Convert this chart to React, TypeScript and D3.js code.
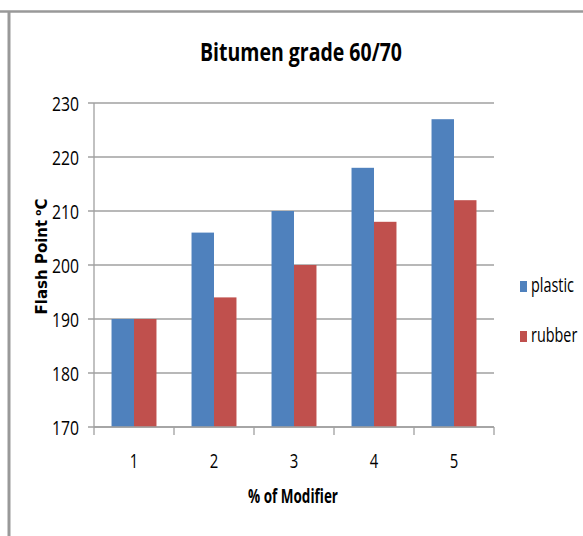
import React from "react";
import * as d3 from "d3";

const categories = ["1", "2", "3", "4", "5"];
const seriesNames = ["plastic", "rubber"];
const plastic = [190, 206, 210, 218, 227];
const rubber = [190, 194, 200, 208, 212];
const yTicks = [170, 180, 190, 200, 210, 220, 230];
const colors = ["#4F81BD", "#C0504D"];

const W = 583;
const H = 536;
const FONT = "'Open Sans', 'Liberation Sans', sans-serif";

export default function App() {
  const x0 = d3.scaleBand<string>().domain(categories).range([94, 494]).padding(0);
  const x1 = d3
    .scaleBand<string>()
    .domain(seriesNames)
    .range([0, x0.bandwidth()])
    .paddingInner(0)
    .paddingOuter(0.78);
  const y = d3.scaleLinear().domain([170, 230]).range([427, 103]);
  const values = [plastic, rubber];
  const grid = "#A0A0A0";

  return (
    <svg
      width={W}
      height={H}
      style={{ position: "absolute", left: 0, top: 0, background: "#fff" }}
    >
      <rect x={0} y={0} width={W} height={H} fill="#fff" />
      {/* border lines */}
      <line x1={0} x2={W} y1={11.5} y2={11.5} stroke="#999" strokeWidth={2.5} />
      <line x1={9} x2={9} y1={11} y2={H} stroke="#999" strokeWidth={3} />

      {/* title */}
      <text
        x={301}
        y={61}
        textAnchor="middle"
        fontFamily={FONT}
        fontWeight="bold"
        fontSize={25}
        textLength={202}
        lengthAdjust="spacingAndGlyphs"
        fill="#000"
      >
        Bitumen  grade 60/70
      </text>

      {/* gridlines */}
      {yTicks.map((t) => (
        <g key={t}>
          <line x1={88} x2={494} y1={y(t)} y2={y(t)} stroke={grid} strokeWidth={1.3} />
          <text
            x={79}
            y={y(t) + 7.5}
            textAnchor="end"
            fontFamily={FONT}
            fontSize={20}
            textLength={27}
            lengthAdjust="spacingAndGlyphs"
            fill="#000"
          >
            {t}
          </text>
        </g>
      ))}

      {/* bars */}
      {categories.map((c, i) => (
        <g key={c} transform={`translate(${x0(c)},0)`}>
          {seriesNames.map((s, j) => (
            <rect
              key={s}
              x={x1(s)}
              y={y(values[j][i])}
              width={x1.bandwidth()}
              height={y(170) - y(values[j][i])}
              fill={colors[j]}
            />
          ))}
        </g>
      ))}

      {/* axes */}
      <line x1={94} x2={94} y1={103} y2={427} stroke={grid} strokeWidth={1.3} />
      <line x1={94} x2={494} y1={427} y2={427} stroke={grid} strokeWidth={1.3} />
      {[...categories.map((c) => x0(c) as number), 494].map((xx, k) => (
        <line key={k} x1={xx} x2={xx} y1={427} y2={435} stroke={grid} strokeWidth={1.3} />
      ))}
      {categories.map((c) => (
        <text
          key={c}
          x={(x0(c) as number) + x0.bandwidth() / 2}
          y={468}
          textAnchor="middle"
          fontFamily={FONT}
          fontSize={20}
          textLength={8.5}
          lengthAdjust="spacingAndGlyphs"
          fill="#000"
        >
          {c}
        </text>
      ))}

      {/* axis titles */}
      <text
        x={293}
        y={503}
        textAnchor="middle"
        fontFamily={FONT}
        fontWeight="bold"
        fontSize={20}
        textLength={90}
        lengthAdjust="spacingAndGlyphs"
        fill="#000"
      >
        % of Modifier
      </text>
      <text
        transform="translate(47,256.5) rotate(-90)"
        textAnchor="middle"
        fontFamily="'DejaVu Sans', sans-serif"
        fontWeight="bold"
        fontSize={15}
        fill="#000"
      >
        Flash Point
        <tspan fontSize={9} dy={-6} dx={4}>o</tspan>
        <tspan dy={6}>C</tspan>
      </text>

      {/* legend */}
      {seriesNames.map((s, j) => (
        <g key={s}>
          <rect x={520} y={281 + j * 50} width={7} height={11} fill={colors[j]} />
          <text
            transform={`translate(531,${292 + j * 50}) scale(0.72,1)`}
            fontFamily={FONT}
            fontSize={20}
            fill="#000"
          >
            {s}
          </text>
        </g>
      ))}
    </svg>
  );
}
